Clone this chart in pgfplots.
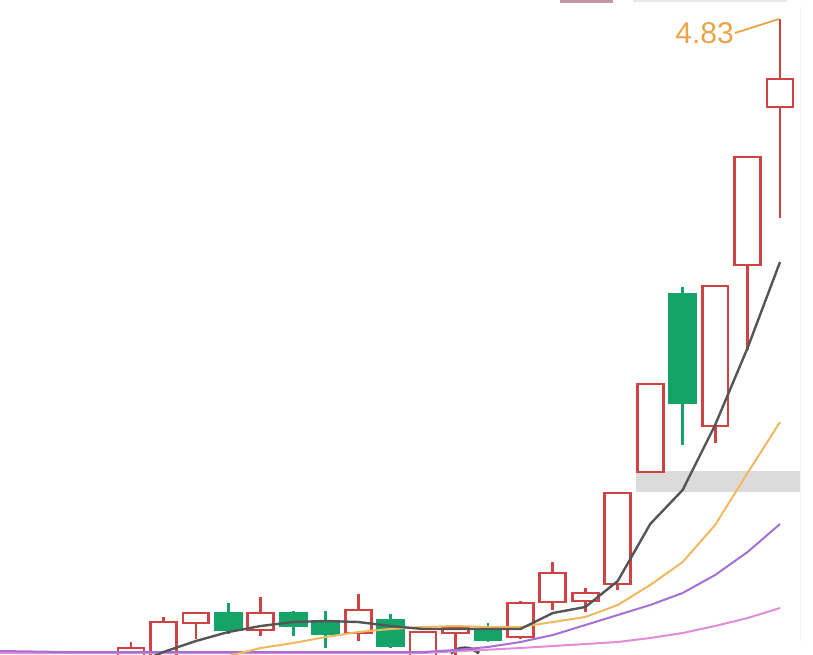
\documentclass[border=0pt]{standalone}
\usepackage{fontspec}
\usepackage{pgfplots}
\pgfplotsset{compat=1.18}
\usepgfplotslibrary{statistics}
\newfontfamily\labelfont{Liberation Sans}
\definecolor{cred}{RGB}{206,68,68}
\definecolor{cgreen}{RGB}{22,163,104}
\definecolor{cblack}{RGB}{85,85,85}
\definecolor{corange}{RGB}{240,184,96}
\definecolor{cpurple}{RGB}{164,112,214}
\definecolor{cpink}{RGB}{226,140,214}
\definecolor{clabel}{RGB}{232,164,72}
\definecolor{cmauve}{RGB}{196,150,170}
% candle: #1 position, #2 open, #3 high, #4 low, #5 close
\newcommand{\upc}[5]{\addplot[draw=cred, fill=none, line width=1.4pt,
  boxplot prepared={draw position=#1, lower whisker=#4, lower quartile=#2,
  median=#5, upper quartile=#5, upper whisker=#3}] coordinates {};}
\newcommand{\dnc}[5]{\addplot[draw=cgreen, fill=cgreen, line width=1.4pt,
  boxplot prepared={draw position=#1, lower whisker=#4, lower quartile=#5,
  median=#5, upper quartile=#2, upper whisker=#3}] coordinates {};}
\begin{document}
\begin{tikzpicture}
\begin{axis}[
  scale only axis, width=406.5pt, height=327pt,
  xmin=-3.037, xmax=22.017, ymin=1.020, ymax=4.944,
  axis lines=none, ticks=none,
  boxplot/draw direction=y,
  boxplot/box extend=0.80,
  boxplot/whisker extend=0,
]
\coordinate (bl) at (rel axis cs:0,0);
\coordinate (tr) at (rel axis cs:1,1);
% grey price band
\fill[gray!28] (axis cs:16.56,1.992) rectangle (axis cs:21.62,2.118);
\draw[gray!8, line width=0.6pt] (axis cs:21.62,1.10) -- (axis cs:21.62,4.90);
% top decorations
\fill[cmauve] (axis cs:14.22,4.926) rectangle (axis cs:15.85,4.944);
\fill[gray!18] (axis cs:16.47,4.932) rectangle (axis cs:21.22,4.944);
% cursor artefact at the bottom edge
\draw[gray!60!black, line width=1.6pt] ([shift={(50:11pt)}]axis cs:11.29,0.924) arc[start angle=50, end angle=130, radius=11pt];
% candles
\upc{1}{0.984}{1.092}{0.972}{1.056}
\upc{2}{0.972}{1.242}{0.948}{1.212}
\upc{3}{1.206}{1.266}{1.110}{1.266}
\dnc{4}{1.266}{1.326}{1.140}{1.164}
\upc{5}{1.164}{1.362}{1.128}{1.266}
\dnc{6}{1.266}{1.278}{1.128}{1.188}
\dnc{7}{1.212}{1.278}{1.056}{1.140}
\upc{8}{1.146}{1.380}{1.098}{1.284}
\dnc{9}{1.224}{1.260}{1.056}{1.068}
\upc{10}{0.984}{1.152}{0.954}{1.152}
\upc{11}{1.146}{1.176}{0.954}{1.176}
\dnc{12}{1.164}{1.206}{1.092}{1.104}
\upc{13}{1.122}{1.338}{1.110}{1.326}
\upc{14}{1.332}{1.572}{1.284}{1.506}
\upc{15}{1.338}{1.416}{1.272}{1.386}
\upc{16}{1.440}{1.986}{1.404}{1.986}
\upc{17}{2.112}{2.640}{2.112}{2.640}
\dnc{18}{3.180}{3.222}{2.274}{2.526}
\upc{19}{2.388}{3.228}{2.286}{3.228}
\upc{20}{3.354}{4.002}{2.844}{4.002}
\upc{21}{4.302}{4.830}{3.636}{4.470}
% moving averages
\addplot[cpink, line width=1pt, line join=round, mark=none] coordinates {
 (-3.037,1.026) (10,1.026) (13,1.056) (14,1.068) (15,1.080) (16,1.092)
 (17,1.116) (18,1.146) (19,1.188) (20,1.236) (21,1.296)};
\addplot[cpurple, line width=1pt, line join=round, mark=none] coordinates {
 (-3.037,1.038) (-1,1.032) (10,1.032) (11,1.044) (12,1.062) (13,1.092)
 (14,1.134) (15,1.194) (16,1.254) (17,1.314) (18,1.386) (19,1.494)
 (20,1.632) (21,1.800)};
\addplot[corange, line width=1pt, line join=round, mark=none] coordinates {
 (4,1.008) (5,1.056) (6,1.086) (7,1.122) (8,1.152) (9,1.170) (10,1.182)
 (11,1.188) (12,1.182) (13,1.182) (14,1.212) (15,1.242) (16,1.314)
 (17,1.434) (18,1.572) (19,1.794) (20,2.106) (21,2.412)};
\addplot[cblack, line width=1.2pt, line join=round, mark=none] coordinates {
 (1.5,0.990) (2,1.032) (3,1.098) (4,1.152) (5,1.188) (6,1.212) (7,1.218)
 (8,1.212) (9,1.188) (10,1.170) (11,1.170) (12,1.170) (13,1.170)
 (14,1.266) (15,1.302) (16,1.458) (17,1.800) (18,2.004) (19,2.394)
 (20,2.856) (21,3.372)};
% high annotation
\draw[clabel, line width=0.9pt] (axis cs:19.61,4.746) -- (axis cs:20.97,4.830);
\node[anchor=east, text=clabel, inner sep=0.5pt, font=\labelfont\fontsize{15}{15}\selectfont]
  at (axis cs:19.62,4.742) {4.83};
\end{axis}
\pgfresetboundingbox
\path (bl) rectangle (tr);
\end{tikzpicture}
\end{document}
